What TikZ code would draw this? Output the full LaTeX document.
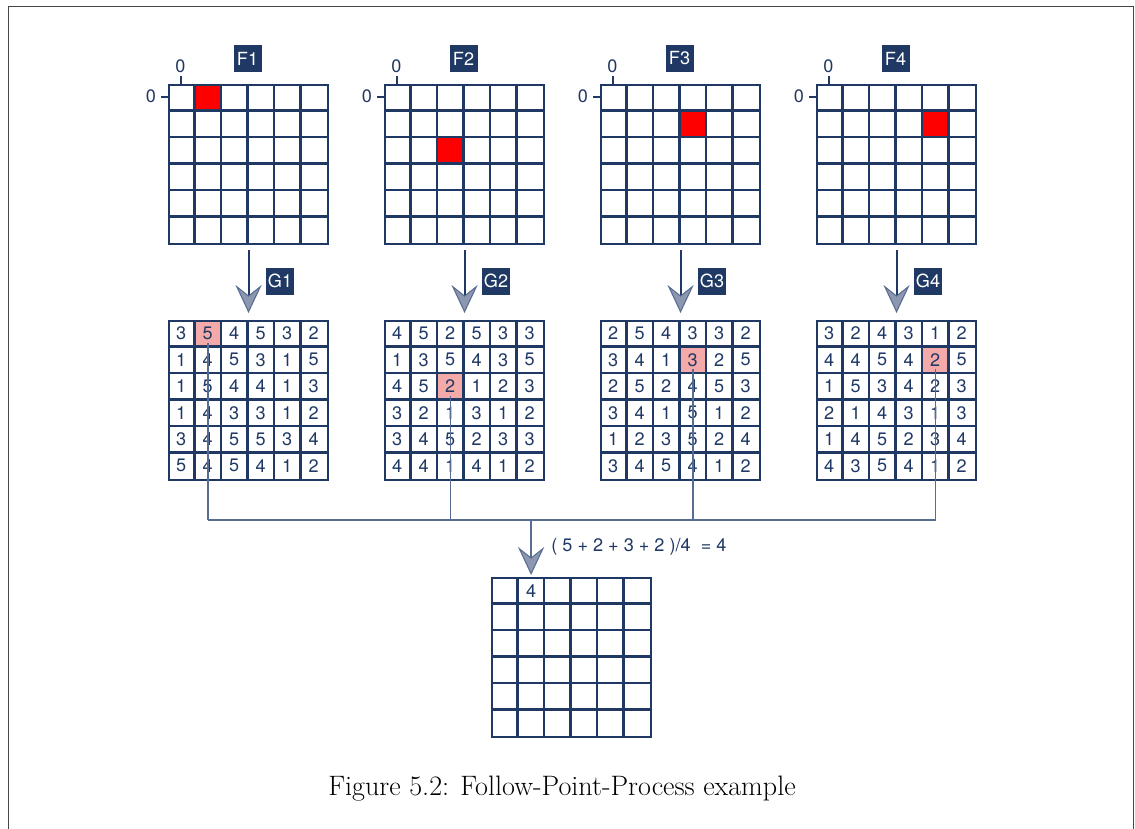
\documentclass[tikz,border=0pt]{standalone}
\usepackage{fontspec}
\setsansfont{TeX Gyre Heros}
\usetikzlibrary{arrows.meta,calc}
\definecolor{navy}{RGB}{31,56,100}
\definecolor{slate}{RGB}{88,108,145}
\definecolor{headfill}{RGB}{140,152,176}
\definecolor{hl}{RGB}{245,170,170}
\definecolor{framegray}{RGB}{70,70,70}
\newcommand\gridlines[2]{%
  \foreach \i in {1,...,5} {
    \draw[gline] ({#1+26.5*\i},#2) -- ++(0,159);
    \draw[gline] (#1,{#2+26.5*\i}) -- ++(159,0);
  }}
\newcommand\fillnums[4]{%
  \foreach \row [count=\r from 0] in {#4} {
    \foreach \v [count=\c from 0] in \row {
      \node[num] (#1-\r-\c) at ({#2+26.5*\c+13.25},{#3+26.5*\r+13.25}) {\v};
    }
  }}
\begin{document}
\begin{tikzpicture}[x=0.02cm,y=-0.02cm,
  gridbox/.style={draw=navy, line width=1.2pt, minimum size=3.18cm, inner sep=0, anchor=north west},
  gline/.style={draw=navy, line width=1.2pt},
  cellbox/.style={minimum size=0.53cm, inner sep=0, anchor=north west},
  redcell/.style={cellbox, fill=red},
  hlcell/.style={cellbox, fill=hl},
  num/.style={text=navy, font=\sffamily\fontsize{10.3}{12}\selectfont, inner sep=0},
  tag/.style={fill=navy, text=white, font=\sffamily\fontsize{10.3}{12}\selectfont, minimum width=0.56cm, minimum height=0.54cm, inner sep=0},
  axis/.style={text=navy, font=\sffamily\fontsize{10.3}{12}\selectfont, inner sep=0},
  tick/.style={draw=navy, line width=0.9pt},
  garrow/.style={draw=navy, line width=1.1pt, shorten <=0.1cm, shorten >=0.14cm,
    -{Stealth[length=16pt,width=15pt,inset=6pt,fill=headfill,color=slate,line width=0.6pt]}},
  link/.style={draw=slate, line width=0.9pt},
  larrow/.style={link, shorten >=0.04cm,
    -{Stealth[length=16pt,width=15pt,inset=6pt,fill=headfill,color=slate,line width=0.6pt]}},
]
\useasboundingbox (0,0) rectangle (1135,828);
\draw[framegray, line width=0.9pt] (8.5,830) -- (8.5,6.5) -- (1133.5,6.5) -- (1133.5,830);

% ---------- top grids F1..F4 ----------
\node[redcell] (r1) at ({168+26.5*1},{84+26.5*0}) {};
\node[redcell] (r2) at ({384+26.5*2},{84+26.5*2}) {};
\node[redcell] (r3) at ({600+26.5*3},{84+26.5*1}) {};
\node[redcell] (r4) at ({816+26.5*4},{84+26.5*1}) {};
\foreach \k/\X in {1/168,2/384,3/600,4/816} {
  \node[gridbox] (F\k) at (\X,84) {};
  \gridlines{\X}{84}
  \node[tag] (tf\k) at ({\X+79.5},58.5) {F\k};
  \node[axis] (ax\k) at ({\X+12.5},66) {0};
  \node[axis] (ay\k) at ({\X-17},96) {0};
  \draw[tick] (F\k.north west) ++(13.25,0) -- ++(0,-8);
  \draw[tick] (F\k.north west) ++(0,13.25) -- ++(-7,0);
}

% ---------- middle grids G1..G4 ----------
\node[hlcell] (h1) at ({168+26.5*1},{320+26.5*0}) {};
\node[hlcell] (h2) at ({384+26.5*2},{320+26.5*2}) {};
\node[hlcell] (h3) at ({600+26.5*3},{320+26.5*1}) {};
\node[hlcell] (h4) at ({816+26.5*4},{320+26.5*1}) {};
\foreach \k/\X in {1/168,2/384,3/600,4/816} {
  \node[gridbox] (G\k) at (\X,320) {};
  \gridlines{\X}{320}
  \node[tag] (tg\k) at ({\X+112},281) {G\k};
  \draw[garrow] (F\k.south) -- (G\k.north);
}
\fillnums{g1}{168}{320}{{3,5,4,5,3,2},{1,4,5,3,1,5},{1,5,4,4,1,3},{1,4,3,3,1,2},{3,4,5,5,3,4},{5,4,5,4,1,2}}
\fillnums{g2}{384}{320}{{4,5,2,5,3,3},{1,3,5,4,3,5},{4,5,2,1,2,3},{3,2,1,3,1,2},{3,4,5,2,3,3},{4,4,1,4,1,2}}
\fillnums{g3}{600}{320}{{2,5,4,3,3,2},{3,4,1,3,2,5},{2,5,2,4,5,3},{3,4,1,5,1,2},{1,2,3,5,2,4},{3,4,5,4,1,2}}
\fillnums{g4}{816}{320}{{3,2,4,3,1,2},{4,4,5,4,2,5},{1,5,3,4,2,3},{2,1,4,3,1,3},{1,4,5,2,3,4},{4,3,5,4,1,2}}

% ---------- result grid ----------
\node[gridbox] (R) at (491,577) {};
\gridlines{491}{577}
\node[cellbox] (res) at ({491+26.5},577) {};
\node[num] (resv) at (res.center) {4};

% ---------- connectors ----------
\coordinate (bus) at (0,520);
\foreach \k in {1,...,4} {
  \draw[link] ($(h\k.south)+(0,-4.5)$) -- (h\k.south |- bus);
}
\draw[link] (h1.south |- bus) -- (h4.south |- bus);
\draw[larrow] (res.north |- bus) -- (res.north);
\node[num, anchor=west] (formula) at (551,547) {( 5 + 2 + 3 + 2 )/4~~= 4};

% ---------- caption ----------
\node[font=\fontsize{16}{19}\selectfont, inner sep=0] (cap) at (562,789) {Figure 5.2: Follow-Point-Process example};
\end{tikzpicture}
\end{document}
